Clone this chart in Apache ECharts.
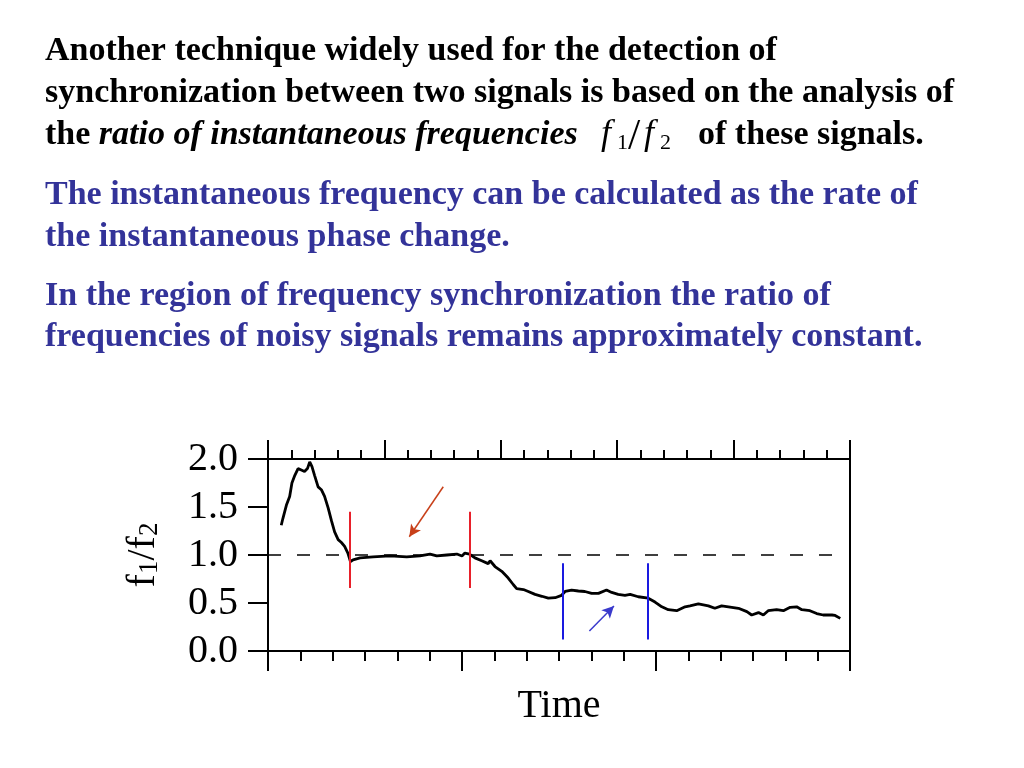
<!DOCTYPE html>
<html>
<head>
<meta charset="utf-8">
<script src="https://cdn.jsdelivr.net/npm/echarts@6/dist/echarts.min.js"></script>
<style>
html,body{margin:0;padding:0;background:#fff;}
#chart{width:1024px;height:768px;}
</style>
</head>
<body>
<div id="chart"></div>
<script>
// ---- data ----
const timeValues = [0.41,0.46,0.57,0.67,0.74,0.83,0.93,1.03,1.13,1.22,1.29,1.36,1.44,1.55,1.65,1.75,1.86,1.96,2.06,2.17,2.27,2.37,2.47,2.55,2.63,2.85,3.25,3.77,4.29,4.70,5.01,5.22,5.53,5.84,6.00,6.09,6.23,6.40,6.61,6.81,6.87,7.02,7.23,7.43,7.59,7.69,7.90,8.05,8.26,8.47,8.67,8.88,9.08,9.19,9.39,9.60,9.80,10.01,10.22,10.47,10.63,10.83,11.04,11.20,11.45,11.76,11.97,12.18,12.38,12.64,12.90,13.05,13.31,13.62,13.82,14.03,14.24,14.55,14.81,14.96,15.17,15.32,15.47,15.73,15.94,16.15,16.35,16.51,16.76,16.97,17.17,17.44,17.54,17.70];
const ratioValues = [1.31,1.38,1.52,1.61,1.75,1.83,1.90,1.885,1.87,1.90,1.97,1.92,1.83,1.71,1.68,1.61,1.49,1.36,1.24,1.16,1.13,1.09,1.02,0.93,0.95,0.97,0.98,0.99,0.98,0.99,1.01,0.99,1.00,1.01,0.99,1.02,1.01,0.97,0.94,0.91,0.94,0.88,0.83,0.76,0.69,0.65,0.64,0.62,0.59,0.57,0.55,0.555,0.58,0.62,0.635,0.625,0.62,0.60,0.60,0.635,0.61,0.59,0.58,0.59,0.565,0.55,0.51,0.46,0.43,0.42,0.46,0.47,0.49,0.47,0.445,0.47,0.46,0.445,0.41,0.375,0.40,0.375,0.42,0.43,0.42,0.455,0.46,0.43,0.42,0.39,0.375,0.375,0.37,0.34];
const yTickLabels = ['0.0','0.5','1.0','1.5','2.0'];
const referenceLevel = 1.0;
const referenceSpan = [0, 17.7];
const redMarkers = [2.54, 6.23];
const redMarkerRange = [0.656, 1.45];
const blueMarkers = [9.13, 11.76];
const blueMarkerRange = [0.12, 0.913];
const redArrow = [[5.42, 1.711], [4.37, 1.19]];
const blueArrow = [[9.94, 0.208], [10.70, 0.469]];

const SERIF = "'Liberation Serif','Times New Roman',Times,serif";
const curve = timeValues.map((t, i) => [t, ratioValues[i]]);

const chart = echarts.init(document.getElementById('chart'), null, {renderer: 'canvas'});

function vLine(x, range, color) {
  return [{coord: [x, range[0]], lineStyle: {color: color, width: 2, type: 'solid'}}, {coord: [x, range[1]]}];
}
function arrow(a, color) {
  return [{coord: a[0], lineStyle: {color: color, width: 1.5, type: 'solid'}, symbol: 'none'}, {coord: a[1], symbol: 'arrow', symbolSize: [9, 12]}];
}

const textLines = [
  {t: 'Another technique widely used for the detection of', y: 51.5, c: '#000'},
  {t: 'synchronization between two signals is based on the analysis of', y: 93.5, c: '#000'},
  {t: 'The instantaneous frequency can be calculated as the rate of', y: 195.5, c: '#333399'},
  {t: 'the instantaneous phase change.', y: 237.5, c: '#333399'},
  {t: 'In the region of frequency synchronization the ratio of', y: 296.5, c: '#333399'},
  {t: 'frequencies of noisy signals remains approximately constant.', y: 337.5, c: '#333399'}
];

const graphics = textLines.map(l => ({
  type: 'text', x: 45, y: l.y, silent: true,
  style: {text: l.t, font: 'bold 34px ' + SERIF, fill: l.c, textVerticalAlign: 'middle', verticalAlign: 'middle'}
}));
graphics.push({
  type: 'text', x: 45, y: 135.5, silent: true,
  style: {
    text: '{b|the }{i|ratio of instantaneous frequencies}',
    textVerticalAlign: 'middle', verticalAlign: 'middle',
    rich: {
      b: {fontFamily: SERIF, fontWeight: 'bold', fontSize: 34, fill: '#000', color: '#000'},
      i: {fontFamily: SERIF, fontWeight: 'bold', fontStyle: 'italic', fontSize: 34, fill: '#000', color: '#000'}
    }
  }
});
const mathParts = [
  {t: 'f', x: 601, y: 134.5, f: 'italic 36px '},
  {t: '1', x: 617, y: 143.5, f: '22px '},
  {t: '/', x: 628, y: 137, f: '44px '},
  {t: 'f', x: 644, y: 134.5, f: 'italic 36px '},
  {t: '2', x: 660, y: 143.5, f: '22px '}
];
mathParts.forEach(p => graphics.push({
  type: 'text', x: p.x, y: p.y, silent: true,
  style: {text: p.t, font: p.f + SERIF, fill: '#000', textVerticalAlign: 'middle', verticalAlign: 'middle'}
}));
graphics.push({
  type: 'text', x: 698, y: 135.5, silent: true,
  style: {text: 'of these signals.', font: 'bold 34px ' + SERIF, fill: '#000', textVerticalAlign: 'middle', verticalAlign: 'middle'}
});

const axisLineStyle = {color: '#000', width: 2};

const option = {
  animation: false,
  backgroundColor: '#fff',
  grid: {left: 268, right: 174, top: 459, bottom: 117, containLabel: false},
  xAxis: [
    {
      type: 'value', position: 'bottom', min: 0, max: 18, interval: 6,
      axisLine: {show: true, onZero: false, lineStyle: axisLineStyle},
      axisTick: {show: true, length: 20, lineStyle: axisLineStyle},
      minorTick: {show: true, splitNumber: 6, length: 10, lineStyle: axisLineStyle},
      axisLabel: {show: false},
      splitLine: {show: false}, minorSplitLine: {show: false},
      name: 'Time', nameLocation: 'middle', nameGap: 35,
      nameTextStyle: {fontFamily: SERIF, fontSize: 40, color: '#000'}
    },
    {
      type: 'value', position: 'top', min: 0, max: 25, interval: 5,
      axisLine: {show: true, onZero: false, lineStyle: axisLineStyle},
      axisTick: {show: true, length: 19, lineStyle: axisLineStyle},
      minorTick: {show: true, splitNumber: 5, length: 9, lineStyle: axisLineStyle},
      axisLabel: {show: false},
      splitLine: {show: false}, minorSplitLine: {show: false}
    }
  ],
  yAxis: [
    {
      type: 'value', position: 'left', min: 0, max: 2, interval: 0.5,
      axisLine: {show: true, onZero: false, lineStyle: axisLineStyle},
      axisTick: {show: true, length: 20, lineStyle: axisLineStyle},
      axisLabel: {
        show: true, margin: 30, fontFamily: SERIF, fontSize: 40, color: '#000',
        formatter: v => yTickLabels[Math.round(v / 0.5)]
      },
      splitLine: {show: false},
      name: '{f|f}{s|1}{f|/f}{s|2}', nameLocation: 'middle', nameRotate: 90, nameGap: 105,
      nameTextStyle: {
        fontFamily: SERIF, fontSize: 40, color: '#000',
        rich: {
          f: {fontFamily: SERIF, fontSize: 40, color: '#000', lineHeight: 40, verticalAlign: 'bottom'},
          s: {fontFamily: SERIF, fontSize: 27, color: '#000', lineHeight: 16, verticalAlign: 'bottom'}
        }
      }
    },
    {
      type: 'value', position: 'right', min: 0, max: 2, interval: 0.5,
      axisLine: {show: true, onZero: false, lineStyle: axisLineStyle},
      axisTick: {show: false}, axisLabel: {show: false}, splitLine: {show: false}
    }
  ],
  graphic: graphics,
  series: [
    {
      type: 'line', name: 'reference', xAxisIndex: 0, yAxisIndex: 0,
      data: [[referenceSpan[0], referenceLevel], [referenceSpan[1], referenceLevel]],
      showSymbol: false, symbol: 'none', silent: true,
      lineStyle: {color: '#000', width: 1.5, type: [13, 16]}
    },
    {
      type: 'line', name: 'f1/f2', xAxisIndex: 0, yAxisIndex: 0,
      data: curve, showSymbol: false, symbol: 'none', silent: true,
      lineStyle: {color: '#000', width: 2.8}
    },
    {
      type: 'line', name: 'markers', xAxisIndex: 0, yAxisIndex: 0, data: [], silent: true,
      markLine: {
        silent: true, animation: false, symbol: 'none', label: {show: false},
        emphasis: {disabled: true},
        data: [
          vLine(redMarkers[0], redMarkerRange, '#e8202a'),
          vLine(redMarkers[1], redMarkerRange, '#e8202a'),
          vLine(blueMarkers[0], blueMarkerRange, '#1a1ae0'),
          vLine(blueMarkers[1], blueMarkerRange, '#1a1ae0'),
          arrow(redArrow, '#c8401a'),
          arrow(blueArrow, '#3a3acc')
        ]
      }
    }
  ]
};
chart.setOption(option);
</script>
</body>
</html>
